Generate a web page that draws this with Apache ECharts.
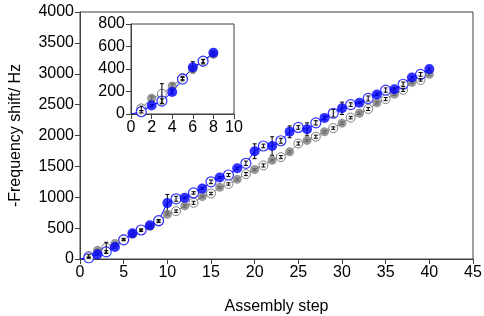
<!DOCTYPE html>
<html>
<head>
<meta charset="utf-8">
<script src="https://cdn.jsdelivr.net/npm/echarts@6/dist/echarts.min.js"></script>
<style>
  html, body { margin: 0; padding: 0; background: #fff; }
  #chart { width: 484px; height: 316px; }
</style>
</head>
<body>
<div id="chart"></div>
<script>
// assembly steps 1..40
const steps = [1, 2, 3, 4, 5, 6, 7, 8, 9, 10, 11, 12, 13, 14, 15, 16, 17, 18, 19, 20,
  21, 22, 23, 24, 25, 26, 27, 28, 29, 30, 31, 32, 33, 34, 35, 36, 37, 38, 39, 40];

// blue series (-frequency shift, Hz)
const blueVals = [20, 75, 115, 195, 310, 415, 470, 545, 620, 905, 975, 990, 1070, 1140, 1250, 1320, 1360, 1470, 1550, 1745,
  1830, 1830, 1915, 2060, 2130, 2100, 2205, 2285, 2360, 2440, 2500, 2530, 2600, 2665, 2735, 2750, 2830, 2940, 2990, 3075];
const blueErr = [10, 10, 20, 15, 15, 50, 15, 15, 20, 140, 40, 15, 20, 15, 30, 15, 25, 20, 35, 120,
  30, 150, 40, 95, 30, 105, 35, 30, 60, 100, 30, 15, 40, 20, 35, 20, 35, 15, 30, 20];

// gray series
const grayVals = [50, 140, 180, 250, 320, 400, 465, 530, 610, 725, 775, 860, 910, 1010, 1060, 1160, 1215, 1290, 1375, 1450,
  1515, 1600, 1650, 1735, 1870, 1920, 1980, 2060, 2120, 2200, 2290, 2360, 2430, 2530, 2590, 2670, 2740, 2860, 2900, 2990];
const grayErr = [20, 20, 90, 20, 15, 20, 20, 15, 20, 15, 20, 20, 25, 15, 20, 15, 20, 20, 25, 15,
  25, 15, 25, 20, 25, 15, 25, 20, 20, 20, 20, 20, 25, 20, 25, 20, 25, 20, 20, 20];

const insetCount = 8;

const BLUE = '#0000ff';
const GRAY = '#808080';
const AXIS = '#404040';
const FONT = '"Liberation Sans", Arial, sans-serif';

function pts(vals, n, parity) {
  const out = [];
  for (let i = 0; i < n; i++) {
    if (parity === null || steps[i] % 2 === parity) out.push([steps[i], vals[i]]);
  }
  return out;
}
function errs(vals, err, n) {
  const out = [];
  for (let i = 0; i < n; i++) out.push([steps[i], vals[i] - err[i], vals[i] + err[i]]);
  return out;
}

function errorBarItem(params, api) {
  const top = api.coord([api.value(0), api.value(2)]);
  const bot = api.coord([api.value(0), api.value(1)]);
  const w = 2;
  const st = { stroke: '#000', lineWidth: 1 };
  return {
    type: 'group',
    children: [
      { type: 'line', shape: { x1: top[0], y1: top[1], x2: bot[0], y2: bot[1] }, style: st },
      { type: 'line', shape: { x1: top[0] - w, y1: top[1], x2: top[0] + w, y2: top[1] }, style: st },
      { type: 'line', shape: { x1: bot[0] - w, y1: bot[1], x2: bot[0] + w, y2: bot[1] }, style: st }
    ]
  };
}

function seriesFor(axisIdx, n) {
  const ax = { xAxisIndex: axisIdx, yAxisIndex: axisIdx };
  return [
    Object.assign({ type: 'line', data: pts(grayVals, n, null), symbol: 'none',
      lineStyle: { color: GRAY, width: 1 }, silent: true, z: 2 }, ax),
    Object.assign({ type: 'line', data: [[0, 0]].concat(pts(blueVals, n, null)), symbol: 'none',
      lineStyle: { color: BLUE, width: 1 }, silent: true, z: 3 }, ax),
    Object.assign({ type: 'scatter', data: pts(grayVals, n, 1), symbol: 'circle', symbolSize: 9,
      itemStyle: { color: '#fff', borderColor: '#606060', borderWidth: 1 }, z: 4 }, ax),
    Object.assign({ type: 'scatter', data: pts(blueVals, n, 1), symbol: 'circle', symbolSize: 10,
      itemStyle: { color: '#fff', borderColor: BLUE, borderWidth: 1.2 }, z: 5 }, ax),
    Object.assign({ type: 'custom', data: errs(grayVals, grayErr, n), renderItem: errorBarItem, z: 6 }, ax),
    Object.assign({ type: 'custom', data: errs(blueVals, blueErr, n), renderItem: errorBarItem, z: 6 }, ax),
    Object.assign({ type: 'scatter', data: pts(grayVals, n, 0), symbol: 'circle', symbolSize: 9,
      itemStyle: { color: GRAY }, z: 7 }, ax),
    Object.assign({ type: 'scatter', data: pts(blueVals, n, 0), symbol: 'circle', symbolSize: 10,
      itemStyle: { color: BLUE }, z: 8 }, ax)
  ];
}

function axisCommon(fontSize) {
  return {
    axisLine: { show: true, onZero: false, lineStyle: { color: AXIS, width: 1 } },
    axisTick: { show: true, inside: false, length: 5, lineStyle: { color: AXIS } },
    axisLabel: { color: '#000', fontSize: fontSize, fontFamily: FONT, margin: 6,
      formatter: function (v) { return String(v); } },
    splitLine: { show: false }
  };
}

const chart = echarts.init(document.getElementById('chart'));
chart.setOption({
  animation: false,
  backgroundColor: '#fff',
  grid: [
    { left: 80, right: 11, top: 12, bottom: 57, show: true, borderColor: AXIS, borderWidth: 1,
      outerBoundsMode: 'none', containLabel: false },
    { left: 131, top: 24, width: 103, height: 90, show: true, borderColor: AXIS, borderWidth: 1,
      backgroundColor: '#fff', outerBoundsMode: 'none', containLabel: false }
  ],
  xAxis: [
    Object.assign(axisCommon(16), {
      type: 'value', gridIndex: 0, min: 0, max: 45, interval: 5,
      name: 'Assembly step', nameLocation: 'middle', nameGap: 40,
      nameTextStyle: { color: '#000', fontSize: 16, fontFamily: FONT }
    }),
    Object.assign(axisCommon(16), { type: 'value', gridIndex: 1, min: 0, max: 10, interval: 2 })
  ],
  yAxis: [
    Object.assign(axisCommon(16), {
      type: 'value', gridIndex: 0, min: 0, max: 4000, interval: 500,
      name: '-Frequency shift/ Hz', nameLocation: 'middle', nameGap: 56,
      nameTextStyle: { color: '#000', fontSize: 16, fontFamily: FONT }
    }),
    Object.assign(axisCommon(16), { type: 'value', gridIndex: 1, min: 0, max: 800, interval: 200 })
  ],
  series: seriesFor(0, steps.length).concat(seriesFor(1, insetCount))
});
</script>
</body>
</html>
